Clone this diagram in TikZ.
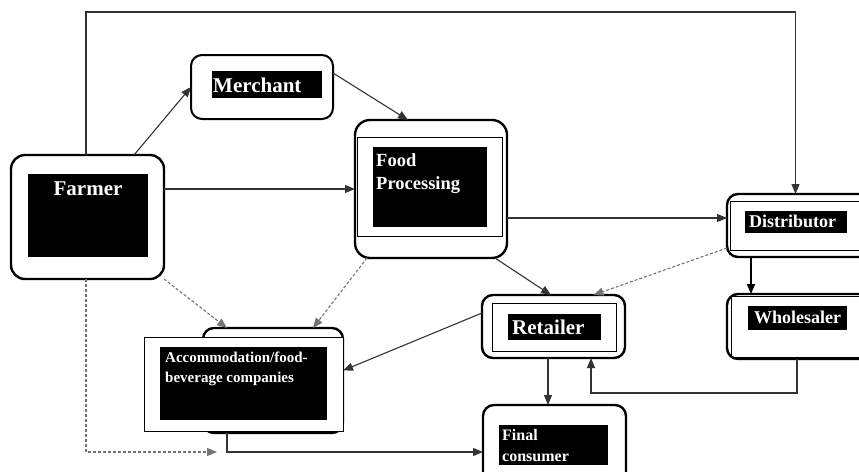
\documentclass[tikz,border=0pt]{standalone}
\usepackage{fontspec}
\setmainfont{Liberation Serif}
\usetikzlibrary{arrows.meta}

\tikzset{
  stage/.style={draw, line width=2.4pt, rounded corners=11pt, inner sep=0pt, outer sep=0pt},
  innerframe/.style={draw, line width=0.9pt, inner sep=0pt, outer sep=0pt},
  blackbox/.style={fill=black, inner sep=0pt, outer sep=0pt},
  boxtext/.style={text=white, inner sep=0pt, anchor=base west, align=left},
  link/.style={draw=black!80, line width=1.1pt, ->},
  weaklink/.style={draw=black!55, line width=1.1pt, dash pattern=on 3pt off 2pt, ->},
}

\begin{document}
\begin{tikzpicture}[x=1pt, y=-1pt, >={Triangle[length=10pt, width=8pt]}]
    \useasboundingbox (0,0) rectangle (859,471);
    \clip (0,0) rectangle (859,471);

    % outer boxes
    \node [stage, rounded corners=14pt, minimum width=153pt, minimum height=124pt] (farmer) at (87.5,217) {};
    \node [stage, line width=2pt, minimum width=142pt, minimum height=64pt] (merchant) at (262,87) {};
    \node [stage, rounded corners=15pt, minimum width=152pt, minimum height=138pt] (food) at (431,189) {};
    \node [stage, minimum width=143pt, minimum height=63pt] (distributor) at (798.5,225.5) {};
    \node [stage, minimum width=143pt, minimum height=65pt] (wholesaler) at (798.5,326.5) {};
    \node [stage, minimum width=143pt, minimum height=63pt] (retailer) at (553.5,326.5) {};
    \node [stage, minimum width=143pt, minimum height=80pt] (consumer) at (554.5,445) {};
    \node [stage, minimum width=140pt, minimum height=105pt] (accom) at (273,380.5) {};

    % inner frames
    \node [innerframe, minimum width=145pt, minimum height=99pt] (foodframe) at (429.5,186.5) {};
    \node [innerframe, minimum width=150pt, minimum height=49pt] (distframe) at (805,225.5) {};
    \node [innerframe, minimum width=149pt, minimum height=60.5pt] (wholeframe) at (805.5,326.75) {};
    \node [innerframe, minimum width=124pt, minimum height=48pt] (retailframe) at (554,327) {};
    \node [innerframe, fill=white, minimum width=199pt, minimum height=94pt] (accomframe) at (243.5,384) {};

    % black label boxes
    \node [blackbox, minimum width=120pt, minimum height=83pt] (farmerfill) at (88,215.5) {};
    \node [blackbox, minimum width=110pt, minimum height=27pt] (merchantfill) at (267,84.5) {};
    \node [blackbox, minimum width=114pt, minimum height=80pt] (foodfill) at (430,187) {};
    \node [blackbox, minimum width=102pt, minimum height=22pt] (distfill) at (796,222) {};
    \node [blackbox, minimum width=99pt, minimum height=24pt] (wholefill) at (797.5,318) {};
    \node [blackbox, minimum width=93pt, minimum height=26pt] (retailfill) at (554.5,327) {};
    \node [blackbox, minimum width=109pt, minimum height=40pt] (consumerfill) at (553.5,445) {};
    \node [blackbox, minimum width=167pt, minimum height=73pt] (accomfill) at (243.5,383.5) {};

    % texts (base anchor sits on the last line)
    \node [boxtext, anchor=base, font=\fontsize{21}{23}\bfseries] (farmertext) at (88,195) {Farmer};
    \node [boxtext, font=\fontsize{21}{23}\bfseries] (merchanttext) at (213,92) {Merchant};
    \node [boxtext, font=\fontsize{18.5}{23}\bfseries] (foodtext) at (376,189) {Food\\Processing};
    \node [boxtext, font=\fontsize{18}{20}\bfseries] (disttext) at (749,227) {Distributor};
    \node [boxtext, font=\fontsize{18}{20}\bfseries] (wholetext) at (754,323) {Wholesaler};
    \node [boxtext, font=\fontsize{21}{23}\bfseries] (retailtext) at (512,334) {Retailer};
    \node [boxtext, font=\fontsize{16}{21}\bfseries] (consumertext) at (502,461) {Final\\consumer};
    \node [boxtext, font=\fontsize{15}{20}\bfseries] (accomtext) at (165,382) {Accommodation/food-\\beverage companies};

    % connectors
    \coordinate (fooddist) at ([yshift=-29pt]food.east);
    \coordinate (loose) at (217,452);

    \path [link] ([xshift=123pt]farmer.north west) -- (merchant.west);
    \path [link] ([yshift=14pt]merchant.east) -- ([xshift=-23pt]food.north);
    \path [link] (farmer.east |- food.west) -- (food.west);
    \path [link] ([xshift=-1.5pt]farmer.north) -- ++(0,-143) -| ([xshift=-3pt]distributor.north);
    \path [link] (fooddist) -- (fooddist -| distributor.west);
    \path [link] ([xshift=-12pt]food.south east) -- ([xshift=-2.5pt]retailer.north);
    \path [weaklink] ([yshift=9pt]distributor.south west) -- ([xshift=40pt]retailer.north);
    \path [link, draw=black, line width=1.8pt] ([xshift=-47.5pt]distributor.south) -- ([xshift=-47.5pt]wholesaler.north);
    \path [link] ([xshift=-1.5pt]wholesaler.south) -- ++(0,34) -| ([xshift=37.5pt]retailer.south);
    \path [link] ([xshift=-5.5pt]retailer.south) -- ([xshift=-6.5pt]consumer.north);
    \path [link] ([yshift=13.5pt]retailer.west) -- ([yshift=10pt]accom.east);
    \path [weaklink] (farmer.south east) -- ([xshift=-46pt]accom.north);
    \path [weaklink] ([xshift=12pt]food.south west) -- ([xshift=40pt]accom.north);
    \path [weaklink] ([xshift=-1.5pt]farmer.south) |- (loose);
    \path [link] ([xshift=-46pt]accom.south) |- (consumer.west |- loose);
\end{tikzpicture}
\end{document}
